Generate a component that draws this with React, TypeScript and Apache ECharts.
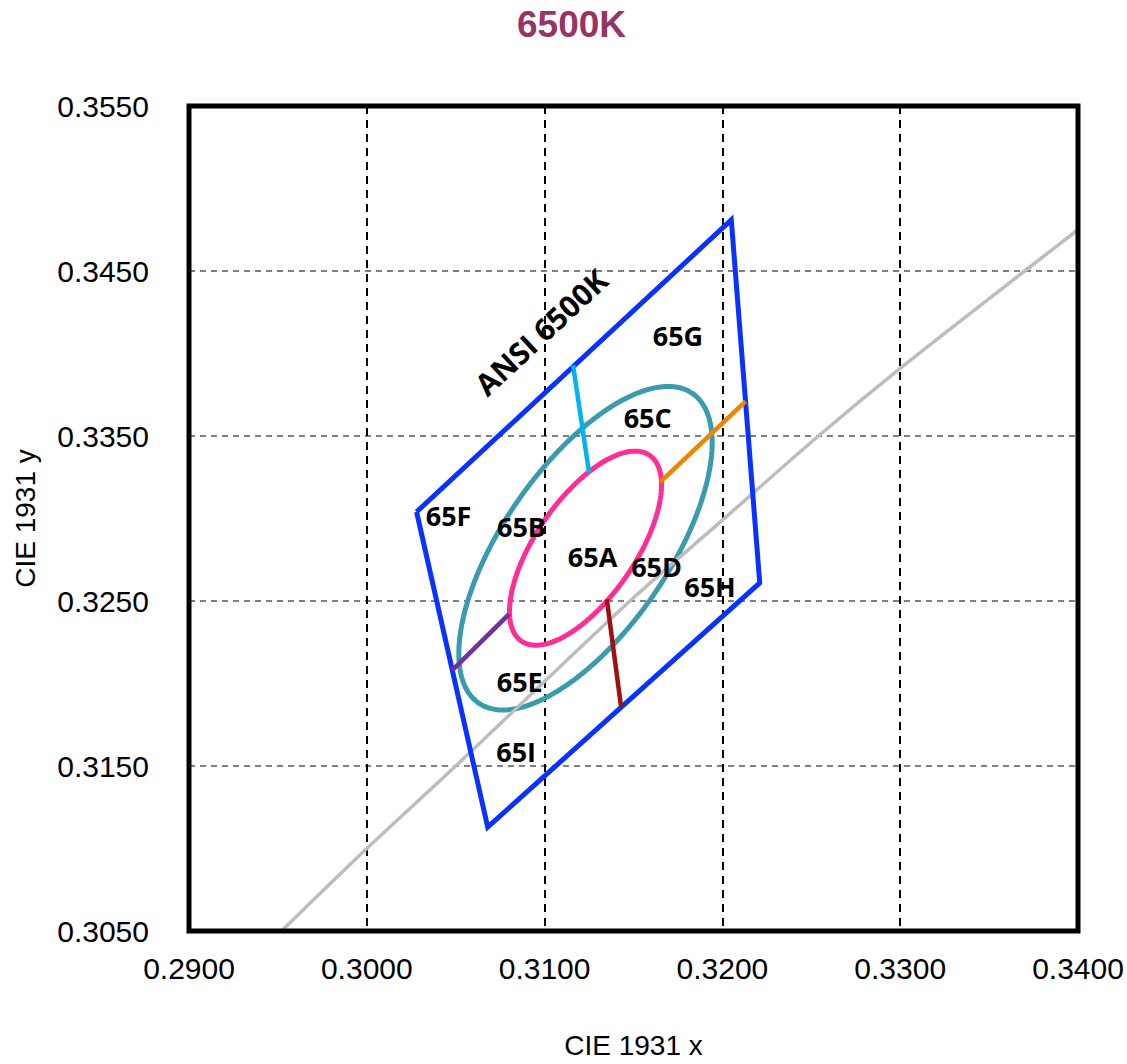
import React, { useEffect, useRef } from "react";
import * as echarts from "echarts";

const TITLE = "6500K";
const X_NAME = "CIE 1931 x";
const Y_NAME = "CIE 1931 y";
const X_MIN = 0.29;
const X_MAX = 0.34;
const Y_MIN = 0.305;
const Y_MAX = 0.355;
const STEP = 0.01;

// ANSI 6500K quadrangle corners (closed)
const quadX = [0.3028, 0.3068, 0.3221, 0.3205, 0.3028];
const quadY = [0.3304, 0.3113, 0.3261, 0.3481, 0.3304];

// Planckian locus
const locusX = [0.2952, 0.3, 0.305, 0.3148, 0.32, 0.3254, 0.33, 0.337, 0.34];
const locusY = [0.305, 0.31, 0.315, 0.325, 0.3299, 0.335, 0.3391, 0.345, 0.3475];

// MacAdam ellipses: centre, semi-axes, angle (deg)
const ellipseCx = [0.3123, 0.3123];
const ellipseCy = [0.3282, 0.3282];
const ellipseA = [0.01115, 0.00669];
const ellipseB = [0.00475, 0.00285];
const ellipseAngle = [58.23, 58.23];
const ellipseColors = ["#3A9AAE", "#FF2E97"];

// bin divider segments
const dividerX1 = [0.3116, 0.3213, 0.3135, 0.3048];
const dividerY1 = [0.3393, 0.3371, 0.3251, 0.3208];
const dividerX2 = [0.3125, 0.3165, 0.3143, 0.308];
const dividerY2 = [0.3328, 0.3322, 0.3186, 0.3242];
const dividerColors = ["#00B4EE", "#F08400", "#A01010", "#7030A0"];

// bin labels
const binNames = ["65G", "65C", "65F", "65B", "65A", "65D", "65H", "65E", "65I"];
const binX = [0.3175, 0.3158, 0.3046, 0.3087, 0.3127, 0.3163, 0.3193, 0.3086, 0.3084];
const binY = [0.3411, 0.3361, 0.3302, 0.3295, 0.3277, 0.3271, 0.3259, 0.3201, 0.3159];

const ansiName = "ANSI 6500K";
const ansiX = 0.3098;
const ansiY = 0.3413;

export default function App() {
  const ref = useRef<HTMLDivElement>(null);
  useEffect(() => {
    if (!ref.current) return;
    const chart = echarts.init(ref.current, undefined, { renderer: "svg" });
    const axisFont = "'Liberation Sans', Arial, sans-serif";

    const series: any[] = [];

    series.push({
      type: "custom",
      name: "ellipses",
      coordinateSystem: "cartesian2d",
      z: 3,
      data: ellipseCx.map((cx, i) => [cx, ellipseCy[i], ellipseA[i], ellipseB[i], ellipseAngle[i]]),
      renderItem: (params: any, api: any) => {
        const cx = api.value(0);
        const cy = api.value(1);
        const a = api.value(2);
        const b = api.value(3);
        const th = (api.value(4) * Math.PI) / 180;
        const pts: number[][] = [];
        const N = 160;
        for (let k = 0; k <= N; k++) {
          const t = (2 * Math.PI * k) / N;
          const x = cx + a * Math.cos(t) * Math.cos(th) - b * Math.sin(t) * Math.sin(th);
          const y = cy + a * Math.cos(t) * Math.sin(th) + b * Math.sin(t) * Math.cos(th);
          pts.push(api.coord([x, y]));
        }
        return {
          type: "polyline",
          shape: { points: pts },
          style: { fill: "none", stroke: ellipseColors[params.dataIndex], lineWidth: 5 },
        };
      },
    });

    series.push({
      type: "line",
      name: "locus",
      z: 4,
      data: locusX.map((x, i) => [x, locusY[i]]),
      smooth: 0.3,
      symbol: "none",
      lineStyle: { color: "#BDBDBD", width: 3.5 },
    });

    series.push({
      type: "line",
      name: "quad",
      z: 5,
      data: quadX.map((x, i) => [x, quadY[i]]),
      symbol: "none",
      lineStyle: { color: "#0A32FF", width: 5, join: "miter" },
    });

    dividerX1.forEach((x1, i) => {
      series.push({
        type: "line",
        z: 6,
        data: [
          [x1, dividerY1[i]],
          [dividerX2[i], dividerY2[i]],
        ],
        symbol: "none",
        lineStyle: { color: dividerColors[i], width: 4.5 },
      });
    });

    const labelBase = {
      show: true,
      position: "inside",
      formatter: "{b}",
      color: "#000",
      opacity: 1,
      fontWeight: "bold",
      fontFamily: "'Open Sans', sans-serif",
    };

    series.push({
      type: "scatter",
      z: 7,
      symbolSize: 0,
      itemStyle: { opacity: 1 },
      emphasis: { disabled: true },
      data: binNames.map((n, i) => ({ name: n, value: [binX[i], binY[i]] })),
      label: { ...labelBase, fontSize: 27 },
    });

    series.push({
      type: "scatter",
      z: 7,
      symbolSize: 0,
      itemStyle: { opacity: 1 },
      emphasis: { disabled: true },
      data: [{ name: ansiName, value: [ansiX, ansiY] }],
      label: { ...labelBase, fontSize: 30, rotate: 43 },
    });

    chart.setOption({
      animation: false,
      backgroundColor: "#fff",
      title: {
        text: TITLE,
        left: 512,
        top: 1,
        textStyle: { color: "#993366", fontSize: 37, fontWeight: "bold", fontFamily: axisFont },
      },
      grid: {
        left: 189,
        top: 106,
        width: 889,
        height: 829,
        show: true,
        borderColor: "#000",
        borderWidth: 5,
        backgroundColor: "transparent",
        z: 10,
      },
      xAxis: {
        type: "value",
        min: X_MIN,
        max: X_MAX,
        interval: STEP,
        name: X_NAME,
        nameLocation: "middle",
        nameGap: 100,
        nameTextStyle: { color: "#000", fontSize: 28, fontFamily: axisFont },
        axisLine: { show: false },
        axisTick: { show: false },
        axisLabel: {
          margin: 22,
          color: "#000",
          fontSize: 30,
          fontFamily: axisFont,
          formatter: (v: number) => v.toFixed(4),
        },
        splitLine: {
          show: true,
          showMinLine: false,
          showMaxLine: false,
          lineStyle: { color: "#000", width: 2, type: [8, 6] },
        },
      },
      yAxis: {
        type: "value",
        min: Y_MIN,
        max: Y_MAX,
        interval: STEP,
        name: Y_NAME,
        nameLocation: "middle",
        nameGap: 150,
        nameTextStyle: { color: "#000", fontSize: 28, fontFamily: axisFont },
        axisLine: { show: false },
        axisTick: { show: false },
        axisLabel: {
          margin: 40,
          color: "#000",
          fontSize: 30,
          fontFamily: axisFont,
          formatter: (v: number) => v.toFixed(4),
        },
        splitLine: {
          show: true,
          showMinLine: false,
          showMaxLine: false,
          lineStyle: { color: "#808080", width: 2, type: [6, 5] },
        },
      },
      series,
    });
    return () => chart.dispose();
  }, []);
  return (
    <div
      ref={ref}
      style={{ position: "fixed", left: 0, top: 0, width: 1127, height: 1064 }}
    />
  );
}
